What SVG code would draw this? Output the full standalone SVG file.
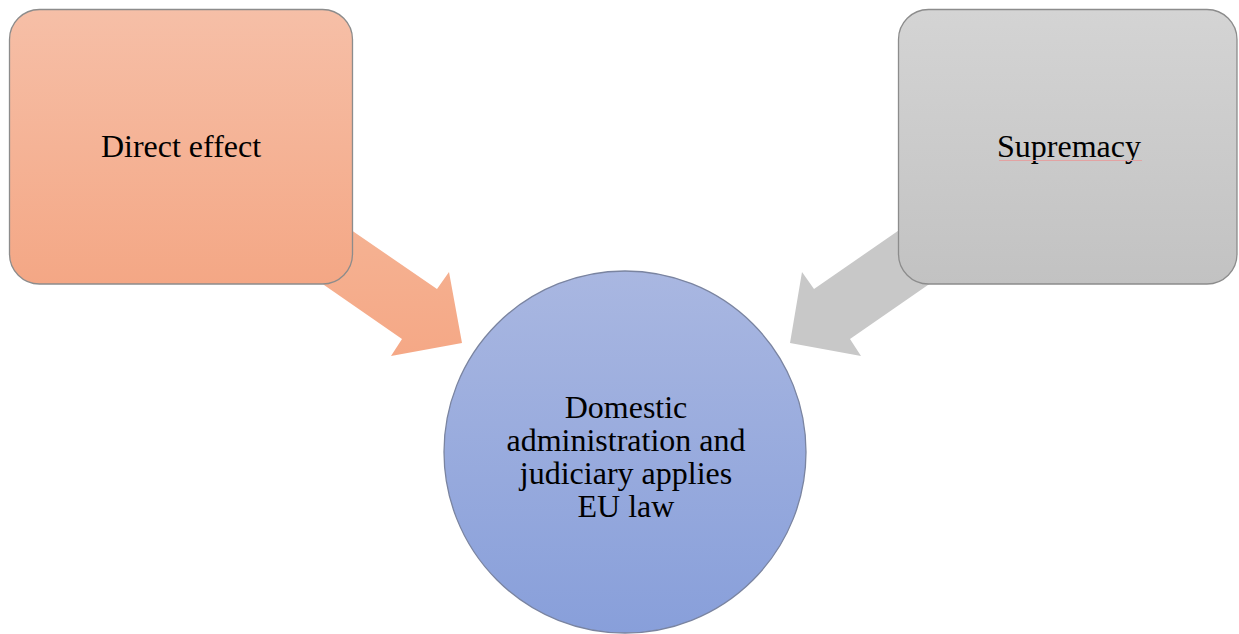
<svg xmlns="http://www.w3.org/2000/svg" width="1239" height="634" viewBox="0 0 1239 634">
  <defs>
    <linearGradient id="gOrange" x1="0" y1="0" x2="0" y2="1">
      <stop offset="0" stop-color="#f6bfa7"/>
      <stop offset="1" stop-color="#f4a785"/>
    </linearGradient>
    <linearGradient id="gGray" x1="0" y1="0" x2="0" y2="1">
      <stop offset="0" stop-color="#d4d4d4"/>
      <stop offset="1" stop-color="#c2c2c2"/>
    </linearGradient>
    <linearGradient id="gBlue" x1="0" y1="0" x2="0" y2="1">
      <stop offset="0" stop-color="#a9b7e1"/>
      <stop offset="1" stop-color="#889fda"/>
    </linearGradient>
    <linearGradient id="gArrowO" x1="0" y1="0" x2="0" y2="1">
      <stop offset="0" stop-color="#f5b596"/>
      <stop offset="1" stop-color="#f5a886"/>
    </linearGradient>
    <style>
      .box { stroke: #8c8c8c; stroke-width: 1.3; }
      .circ { stroke: #7a84a0; stroke-width: 1.3; }
      .lbl { font-family: "Liberation Serif", "Times New Roman", serif; font-size: 32px; fill: #000; text-anchor: middle; }
    </style>
  </defs>

  <!-- block arrows -->
  <g id="connectors">
    <polygon fill="url(#gArrowO)" points="290,188 437,289 449,272 462,343 391,356 402,339 262,242"/>
    <polygon fill="#c8c8c8" points="960,188 814,289 802,272 790,343 861,356 850,339 990,242"/>
  </g>

  <g id="node-direct-effect">
    <rect class="box" x="9.5" y="9.5" width="343" height="274.5" rx="30" ry="30" fill="url(#gOrange)"/>
    <text class="lbl" x="181" y="157">Direct effect</text>
  </g>

  <g id="node-supremacy">
    <rect class="box" x="898.5" y="9.5" width="338.5" height="274.5" rx="30" ry="30" fill="url(#gGray)"/>
    <text class="lbl" x="1069" y="157">Supremacy</text>
    <line x1="999" y1="160.5" x2="1142" y2="160.5" stroke="#e3a3a3" stroke-width="1"/>
  </g>

  <g id="node-domestic">
    <circle class="circ" cx="625" cy="452" r="181" fill="url(#gBlue)"/>
    <text class="lbl" x="626" y="418">Domestic</text>
    <text class="lbl" x="626" y="451">administration and</text>
    <text class="lbl" x="626" y="484">judiciary applies</text>
    <text class="lbl" x="626" y="517">EU law</text>
  </g>
</svg>
